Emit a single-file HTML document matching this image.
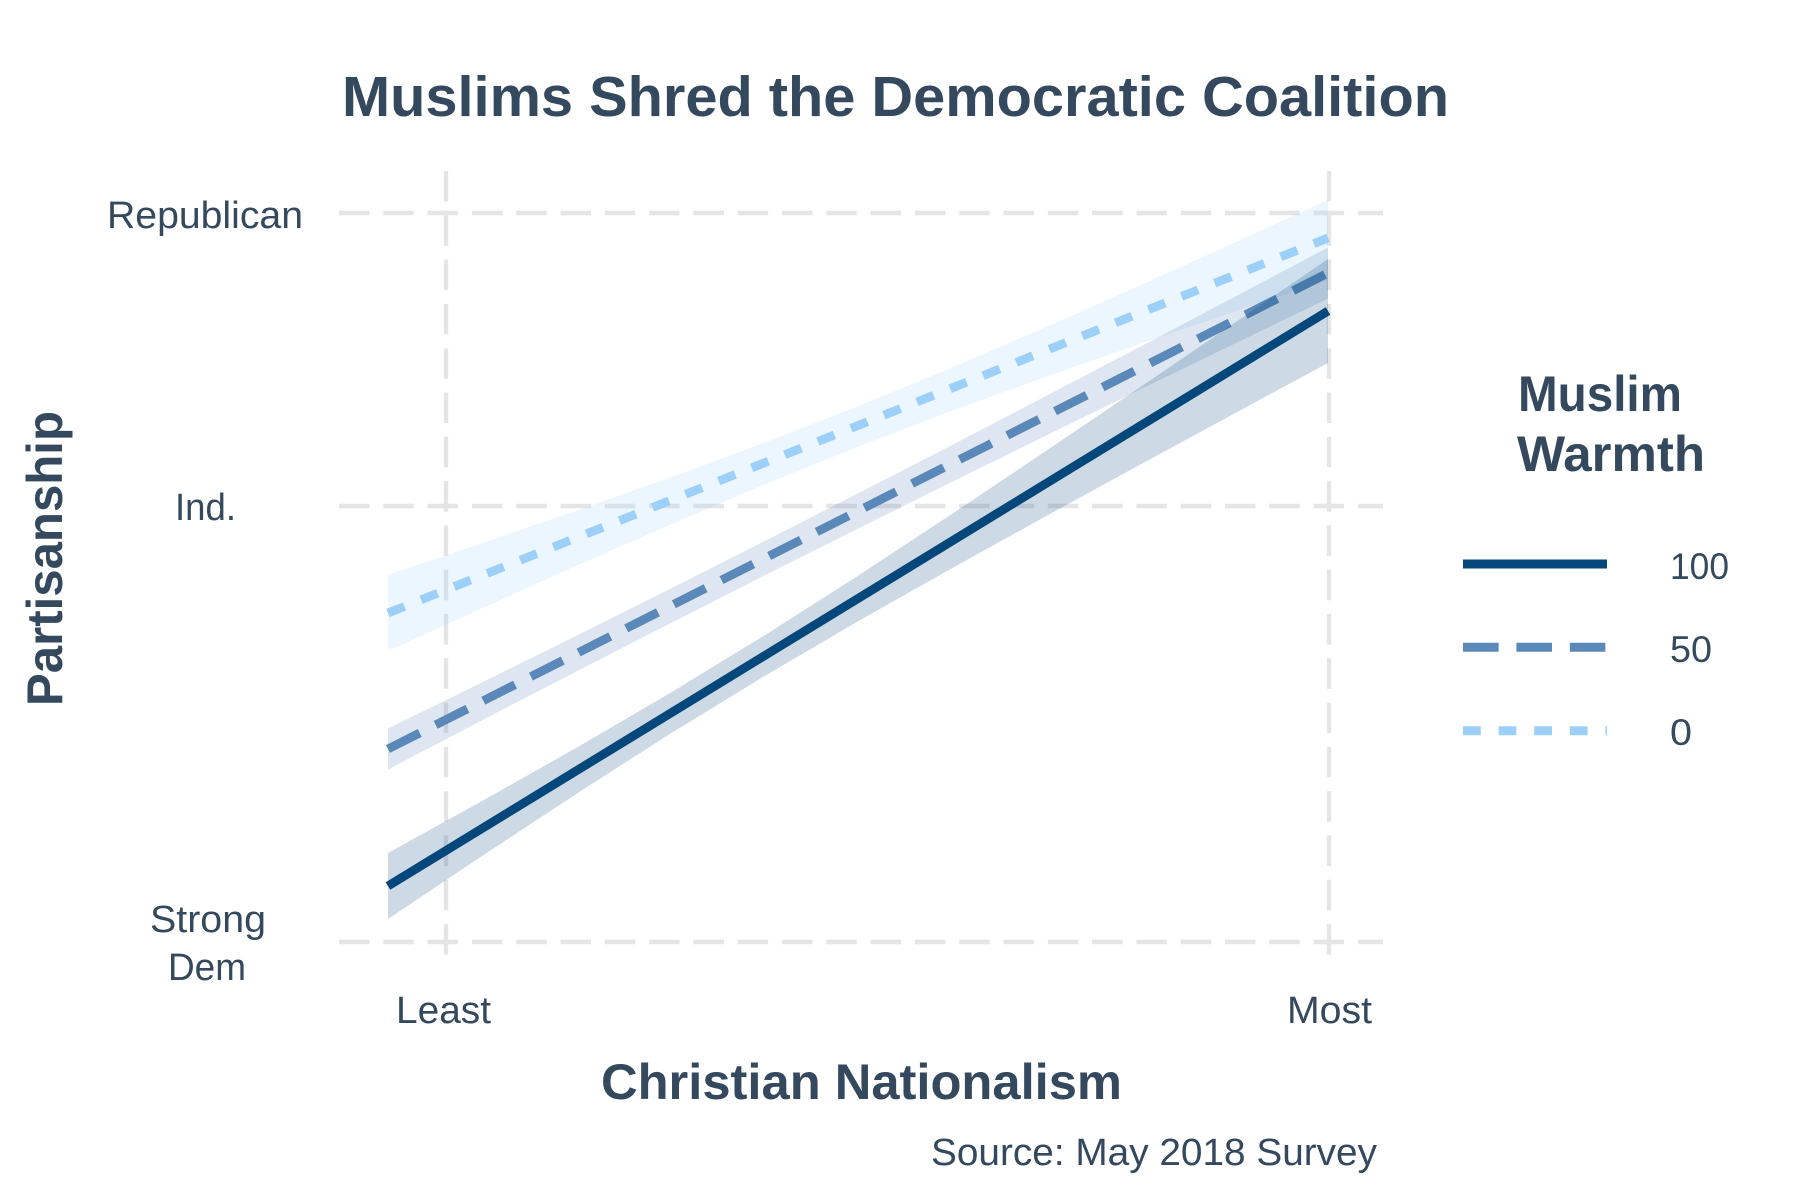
<!DOCTYPE html>
<html>
<head>
<meta charset="utf-8">
<style>
  html, body { margin: 0; padding: 0; background: #ffffff; }
  svg { display: block; }
  text { font-family: "Liberation Sans", Arial, sans-serif; fill: #34495e; }
  .b { font-weight: bold; }
</style>
</head>
<body>
<svg width="1800" height="1200" viewBox="0 0 1800 1200" xmlns="http://www.w3.org/2000/svg">
  <rect x="0" y="0" width="1800" height="1200" fill="#ffffff"/>

  <!-- Title -->
  <text class="b" x="342" y="116" font-size="57" textLength="1107" lengthAdjust="spacingAndGlyphs">Muslims Shred the Democratic Coalition</text>

  <!-- Grid lines -->
  <g stroke="#e5e5e5" stroke-width="4.4" stroke-dasharray="30.5 13.8" fill="none">
    <line x1="339" y1="213" x2="1383" y2="213"/>
    <line x1="339" y1="506" x2="1383" y2="506"/>
    <line x1="339" y1="942" x2="1383" y2="942"/>
    <line x1="446" y1="171" x2="446" y2="963"/>
    <line x1="1329" y1="171" x2="1329" y2="963"/>
  </g>

  <!-- Dotted series (0) -->
  <polygon fill="#9dd0f9" fill-opacity="0.2" points="388,575.0 482,543.2 576,510.8 670,477.6 764,442.9 858,406.3 952,367.6 1046,327.1 1140,285.4 1234,242.9 1328,200.0 1328,280.0 1234,311.7 1140,343.9 1046,376.7 952,410.8 858,446.7 764,484.7 670,524.7 576,566.0 482,608.2 388,651.0"/>
  <line x1="388" y1="613" x2="1328" y2="238" stroke="#9dd0f9" stroke-width="8.8" stroke-dasharray="17.8 17.8" stroke-linecap="butt"/>

  <!-- Dashed series (50) -->
  <polygon fill="#5a88b8" fill-opacity="0.2" points="388,728.5 482,682.4 576,635.9 670,588.9 764,541.4 858,493.4 952,445.0 1046,396.0 1140,346.8 1234,297.2 1328,247.5 1328,298.5 1234,344.0 1140,389.6 1046,435.6 952,481.9 858,528.6 764,575.8 670,623.5 576,671.7 482,720.4 388,769.5"/>
  <line x1="388" y1="749" x2="1328" y2="273" stroke="#5a88b8" stroke-width="8.8" stroke-dasharray="35.6 17.8" stroke-linecap="butt"/>

  <!-- Solid series (100) -->
  <polygon fill="#03477b" fill-opacity="0.2" points="388,853.0 482,801.0 576,748.0 670,693.1 764,635.7 858,575.7 952,513.9 1046,450.9 1140,387.3 1234,323.3 1328,259.0 1328,363.0 1234,413.7 1140,464.7 1046,516.1 952,568.2 858,621.3 764,676.4 670,733.9 576,794.1 482,856.0 388,919.0"/>
  <line x1="388" y1="886" x2="1328" y2="311" stroke="#03477b" stroke-width="8.8" stroke-linecap="butt"/>

  <!-- Y axis labels -->
  <text x="107" y="228" font-size="38" textLength="196" lengthAdjust="spacingAndGlyphs">Republican</text>
  <text x="175" y="520" font-size="38" textLength="61" lengthAdjust="spacingAndGlyphs">Ind.</text>
  <text x="150" y="932" font-size="38" textLength="116" lengthAdjust="spacingAndGlyphs">Strong</text>
  <text x="168" y="980" font-size="38" textLength="78" lengthAdjust="spacingAndGlyphs">Dem</text>

  <!-- X axis labels -->
  <text x="396" y="1023" font-size="38" textLength="95" lengthAdjust="spacingAndGlyphs">Least</text>
  <text x="1287" y="1023" font-size="38" textLength="85" lengthAdjust="spacingAndGlyphs">Most</text>

  <!-- Axis titles -->
  <text class="b" x="601" y="1099" font-size="50" textLength="521" lengthAdjust="spacingAndGlyphs">Christian Nationalism</text>
  <text class="b" transform="translate(62,706) rotate(-90)" x="0" y="0" font-size="50" textLength="295" lengthAdjust="spacingAndGlyphs">Partisanship</text>

  <!-- Source -->
  <text x="931" y="1165" font-size="38" textLength="446" lengthAdjust="spacingAndGlyphs">Source: May 2018 Survey</text>

  <!-- Legend -->
  <text class="b" x="1518" y="411" font-size="50" textLength="164" lengthAdjust="spacingAndGlyphs">Muslim</text>
  <text class="b" x="1517" y="471" font-size="50" textLength="188" lengthAdjust="spacingAndGlyphs">Warmth</text>

  <line x1="1463" y1="564" x2="1607" y2="564" stroke="#03477b" stroke-width="9"/>
  <line x1="1463" y1="647.3" x2="1607" y2="647.3" stroke="#5a88b8" stroke-width="9" stroke-dasharray="35.6 17.8"/>
  <line x1="1463" y1="730.7" x2="1607" y2="730.7" stroke="#9dd0f9" stroke-width="9" stroke-dasharray="17.8 17.8"/>

  <text x="1670" y="579" font-size="37" textLength="59" lengthAdjust="spacingAndGlyphs">100</text>
  <text x="1670" y="662" font-size="37" textLength="42" lengthAdjust="spacingAndGlyphs">50</text>
  <text x="1670" y="745" font-size="37" textLength="22" lengthAdjust="spacingAndGlyphs">0</text>
</svg>
</body>
</html>
